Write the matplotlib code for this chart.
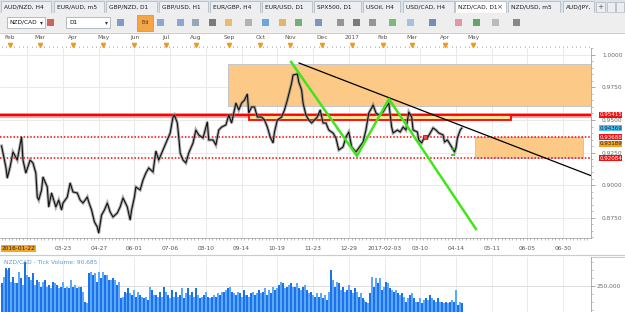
import numpy as np
import matplotlib.pyplot as plt
from matplotlib.patches import Rectangle
from matplotlib.transforms import blended_transform_factory as blend

# ---- data --------------------------------------------------------------
# trading day index (0 = 2016-01-22) and daily close of NZD/CAD
day = [0, 3, 4, 6, 8, 11, 14, 15, 17, 20, 22, 24, 25, 26, 28, 29, 32, 33, 35, 38,
       40, 42, 43, 46, 48, 50, 53, 55, 57, 60, 61, 63, 65, 67, 68, 70, 72, 74, 76, 78,
       81, 83, 85, 88, 90, 91, 93, 94, 97, 99, 101, 103, 106, 108, 110, 113, 116, 118, 120, 121,
       123, 124, 125, 127, 129, 131, 134, 136, 138, 141, 144, 145, 148, 150, 152, 154, 157, 159, 161, 164,
       166, 168, 170, 172, 173, 175, 177, 179, 182, 184, 186, 188, 190, 191, 193, 196, 198, 200, 203, 204,
       207, 208, 210, 211, 213, 215, 217, 219, 221, 223, 225, 227, 229, 232, 234, 236, 239, 241, 243, 245,
       248, 250, 253, 255, 257, 259, 260, 262, 264, 267, 269, 271, 273, 274, 277, 279, 281, 283, 285, 287,
       288, 291, 292, 294, 296, 298, 300, 302, 304, 306, 309, 310, 312, 315, 317, 318, 319, 321, 322]
close = [0.9301, 0.9140, 0.9055, 0.9140, 0.9255, 0.9193, 0.9370, 0.9193, 0.9093, 0.9193,
         0.9170, 0.9093, 0.8909, 0.8886, 0.8963, 0.9063, 0.8986, 0.8833, 0.8940, 0.8833,
         0.8886, 0.8810, 0.8863, 0.8909, 0.9017, 0.8948, 0.8940, 0.8886, 0.8863, 0.8909,
         0.8871, 0.8810, 0.8718, 0.8679, 0.8633, 0.8771, 0.8810, 0.8863, 0.8794, 0.8756,
         0.8787, 0.8833, 0.8902, 0.8833, 0.8733, 0.8810, 0.8909, 0.8986, 0.8963, 0.9040,
         0.9093, 0.9132, 0.9101, 0.9262, 0.9193, 0.9270, 0.9347, 0.9400, 0.9523, 0.9538,
         0.9477, 0.9370, 0.9247, 0.9193, 0.9170, 0.9247, 0.9324, 0.9423, 0.9385, 0.9362,
         0.9485, 0.9347, 0.9347, 0.9308, 0.9423, 0.9446, 0.9462, 0.9538, 0.9477, 0.9630,
         0.9577, 0.9630, 0.9653, 0.9699, 0.9554, 0.9600, 0.9600, 0.9523, 0.9523, 0.9500,
         0.9446, 0.9370, 0.9324, 0.9408, 0.9500, 0.9523, 0.9577, 0.9653, 0.9784, 0.9845,
         0.9853, 0.9791, 0.9730, 0.9630, 0.9538, 0.9500, 0.9477, 0.9500, 0.9523, 0.9577,
         0.9477, 0.9477, 0.9423, 0.9400, 0.9362, 0.9270, 0.9293, 0.9370, 0.9408, 0.9293,
         0.9255, 0.9285, 0.9331, 0.9423, 0.9554, 0.9592, 0.9615, 0.9554, 0.9538, 0.9561,
         0.9600, 0.9630, 0.9446, 0.9400, 0.9423, 0.9408, 0.9446, 0.9423, 0.9561, 0.9523,
         0.9423, 0.9408, 0.9347, 0.9324, 0.9370, 0.9362, 0.9400, 0.9439, 0.9423, 0.9400,
         0.9385, 0.9331, 0.9347, 0.9293, 0.9255, 0.9285, 0.9362, 0.9423, 0.9437]

# tick volume, left to right
volume = [268750, 306250, 362500, 350000, 362500, 275000, 306250, 268750, 268750, 337500,
          300000, 256250, 400000, 318750, 306250, 287500, 331250, 256250, 287500, 275000,
          243750, 275000, 287500, 243750, 256250, 237500, 275000, 268750, 256250, 237500,
          243750, 275000, 237500, 243750, 237500, 287500, 243750, 256250, 237500, 243750,
          243750, 212500, 150000, 143750, 331250, 337500, 318750, 331250, 275000, 337500,
          300000, 337500, 318750, 318750, 287500, 287500, 300000, 287500, 256250, 275000,
          175000, 181250, 212500, 206250, 237500, 206250, 193750, 225000, 181250, 212500,
          193750, 181250, 175000, 181250, 162500, 243750, 225000, 193750, 193750, 181250,
          212500, 181250, 243750, 212500, 193750, 175000, 225000, 181250, 212500, 181250,
          193750, 237500, 175000, 206250, 237500, 193750, 212500, 181250, 237500, 193750,
          175000, 181250, 193750, 212500, 181250, 175000, 181250, 193750, 181250, 206250,
          193750, 212500, 212500, 225000, 237500, 243750, 212500, 206250, 193750, 212500,
          206250, 181250, 225000, 193750, 193750, 181250, 206250, 212500, 193750, 206250,
          225000, 206250, 212500, 237500, 193750, 225000, 206250, 243750, 225000, 237500,
          256250, 275000, 268750, 237500, 243750, 256250, 268750, 243750, 243750, 268750,
          237500, 225000, 243750, 256250, 225000, 206250, 212500, 193750, 181250, 206250,
          181250, 206250, 175000, 193750, 162500, 212500, 350000, 287500, 243750, 275000,
          268750, 225000, 243750, 212500, 225000, 256250, 225000, 206250, 237500, 212500,
          181250, 206250, 175000, 162500, 150000, 143750, 206250, 306250, 243750, 300000,
          268750, 300000, 225000, 243750, 275000, 268750, 237500, 225000, 212500, 225000,
          206250, 193750, 206250, 181250, 150000, 175000, 193750, 206250, 175000, 150000,
          150000, 175000, 143750, 162500, 175000, 162500, 193750, 175000, 162500, 150000,
          175000, 150000, 150000, 143750, 150000, 143750, 150000, 162500, 150000, 225000,
          131250, 150000, 143750]
last_day = 322

# drawn objects (trading-day index, price)
resistance = 0.95415
dotted_levels = [0.93688, 0.92084]
last_price = 0.94369
bid_price = 0.93189
zones = [(158.5, 413.2, 0.9929, 0.9607), (331.3, 406.9, 0.93688, 0.92084)]
small_zone = (173.2, 356.5, 0.95415, 0.9502)
black_x, black_y = [208.2, 413.2], [0.9937, 0.9070]
green_x, green_y = [202.6, 248.7, 271.1, 332.0], [0.9945, 0.9224, 0.9661, 0.8664]
marker_day, marker_price = 296, 0.9370
green_tick_day, green_tick_prices = 316, [0.9277, 0.9231]

# axis labels
price_ticks = [0.8750, 0.9000, 0.9250, 0.9500, 0.9750, 1.0000]
grid_days = [18, 43, 68, 93, 118, 143, 168, 193, 218, 243, 268, 293, 318, 343, 368, 393]
date_days = [43, 68, 93, 118, 143, 168, 193, 218, 243, 268, 293, 318, 343, 368, 393]
date_labels = ['03-23', '04-27', '06-01', '07-06', '08-10', '09-14', '10-19', '11-23',
               '12-29', '2017-02-03', '03-10', '04-14', '05-11', '06-05', '06-30']
month_days = [6, 27, 50, 71, 93, 115, 136, 159, 181, 202, 224, 245, 267, 287, 310, 330]
month_labels = ['Feb', 'Mar', 'Apr', 'May', 'Jun', 'Jul', 'Aug', 'Sep', 'Oct', 'Nov',
                'Dec', '2017', 'Feb', 'Mar', 'Apr', 'May']
tabs = ['AUD/NZD, H4', 'EUR/AUD, m5', 'GBP/NZD, D1', 'GBP/USD, H1', 'EUR/GBP, H4',
        'EUR/USD, D1', 'SPX500, D1', 'USOil, H4', 'USD/CAD, H4', 'NZD/CAD, D1',
        'NZD/USD, m5', 'AUD/JPY,']
active_tab = 'NZD/CAD, D1'

# ---- figure -----------------------------------------------------------
W, H = 625, 312
FS = 4.2
fig = plt.figure(figsize=(W / 100, H / 100), dpi=100)


def px_axes(x0, y0, x1, y1, **kw):
    return fig.add_axes([x0 / W, 1 - y1 / H, (x1 - x0) / W, (y1 - y0) / H], **kw)


# window chrome (pixel coordinates)
ui = px_axes(0, 0, W, H)
ui.set_xlim(0, W)
ui.set_ylim(H, 0)
ui.axis('off')
ui.add_patch(Rectangle((0, 0), W, H, color='#ffffff'))
ui.add_patch(Rectangle((0, 0), W, 13, color='#dde2e8'))
tab_spans = [(0, 51), (53, 104), (105, 157), (158, 208), (209, 260), (261, 312),
             (313, 361), (362, 400), (402, 454), (454, 506), (507, 560), (562, 594)]
for (x0, x1), name in zip(tab_spans, tabs):
    act = name == active_tab
    ui.add_patch(Rectangle((x0 + 0.5, 1), x1 - x0 - 1, 12, fc='#ffffff' if act else '#eceef1',
                           ec='#aab3bd', lw=0.5))
    ui.text(x0 + 4, 7, name, fontsize=FS, color='#1a1a1a', va='center')
    if act:
        ui.text(x1 - 6, 7, '×', fontsize=FS + 1, color='#555555', va='center', ha='center')
ui.add_patch(Rectangle((596, 2), 9, 10, fc='#eceef1', ec='#aab3bd', lw=0.5))
ui.text(600.5, 7, '+', fontsize=FS + 1, color='#555555', ha='center', va='center')
ui.add_patch(Rectangle((607, 2), 8, 10, fc='#eceef1', ec='#aab3bd', lw=0.5))
ui.add_patch(Rectangle((616, 2), 8, 10, fc='#eceef1', ec='#aab3bd', lw=0.5))

# toolbar
ui.add_patch(Rectangle((0, 13), W, 20, color='#eeeeee'))
ui.plot([0, W], [33, 33], color='#c4c4c4', lw=0.6)
ui.add_patch(Rectangle((7, 17), 38, 11, fc='white', ec='#9aa4ae', lw=0.5))
ui.text(9, 22.5, 'NZD/CAD', fontsize=FS, va='center', color='#111111')
ui.text(41, 22.5, '▾', fontsize=FS, va='center', ha='center', color='#333333')
ui.add_patch(Rectangle((66, 17), 44, 11, fc='white', ec='#9aa4ae', lw=0.5))
ui.text(69, 22.5, 'D1', fontsize=FS, va='center', color='#111111')
ui.text(106, 22.5, '▾', fontsize=FS, va='center', ha='center', color='#333333')
ui.add_patch(Rectangle((137, 15), 16, 16, fc='#f6a545', ec='#d98a2b', lw=0.5))
ui.text(145, 22.5, 'Bid', fontsize=3.3, ha='center', va='center', color='#333333')
icon_x = [50, 120, 160, 180, 195, 212, 228, 248, 265, 282, 298, 318, 340, 356, 372,
          392, 410, 432, 458, 476, 495, 516]
icon_c = ['#c0392b', '#5d7fb5', '#6b8fc7', '#6b8fc7', '#7a8fa8', '#555555', '#e0b040',
          '#9aa0a6', '#3f8fd8', '#d9a441', '#4e9a4e', '#5577aa', '#777777', '#555555',
          '#777777', '#4caf50', '#8fb3e0', '#4a6fa5', '#e07a8a', '#3a8a3a', '#aaaaaa', '#666666']
for x, c in zip(icon_x, icon_c):
    ui.add_patch(Rectangle((x - 3, 19), 7, 7, fc=c, ec='none', alpha=0.75))

# separators around the rulers and panes
ui.add_patch(Rectangle((0, 33), W, 15, color='#ffffff'))
ui.plot([0, 591], [47.5, 47.5], color='#9a9a9a', lw=0.5)
ui.plot([0, 591], [238, 238], color='#9a9a9a', lw=0.5)
ui.plot([0, W], [254.5, 254.5], color='#c8ccd2', lw=0.8)
ui.plot([0, W], [256.5, 256.5], color='#c8ccd2', lw=0.8)

xlim = (-1.08, 412.5)

# ---- price pane -------------------------------------------------------
ax = px_axes(0, 48, 591, 238)
ax.set_zorder(2)
ax.set_xlim(*xlim)
ax.set_ylim(0.85949, 1.00522)
ax.set_facecolor('white')
for g in grid_days:
    ax.axvline(g, color='#e6e6e6', lw=0.6, zorder=0)
for p in price_ticks:
    ax.axhline(p, color='#e6e6e6', lw=0.6, zorder=0)

for d0, d1, top, bot in zones:
    ax.add_patch(Rectangle((d0, bot), d1 - d0, top - bot, fc='#fdc987', ec='#b9c3d1',
                           lw=0.6, zorder=1))
ax.axhline(resistance, color='#ff9a9a', lw=3.5, zorder=2)
ax.axhline(resistance, color='#ff0000', lw=1.6, zorder=3)
sd0, sd1, stop, sbot = small_zone
ax.add_patch(Rectangle((sd0, sbot), sd1 - sd0, stop - sbot, fc='#fde39a', ec='#ff0000',
                       lw=1.3, zorder=3))
for lv in dotted_levels:
    ax.axhline(lv, color='#ff0000', lw=1.1, ls=(0, (1, 1.2)), zorder=3)

ax.plot(day, close, color='#8a8a8a', lw=2.2, alpha=0.7, zorder=4, solid_joinstyle='miter')
ax.plot(day, close, color='#111111', lw=0.8, zorder=5)
ax.plot(black_x, black_y, color='#000000', lw=0.9, zorder=6)
ax.plot(green_x, green_y, color='#3ee61a', lw=1.8, zorder=6)
ax.plot([marker_day], [marker_price], 's', ms=3.5, mfc='#ff4040', mec='#b00000', mew=0.5,
        zorder=7)
ax.plot([green_tick_day] * 2, green_tick_prices, '_', ms=3, mew=1.2, color='#2fbf1a',
        ls='none', zorder=7)

ax.tick_params(axis='x', bottom=False, labelbottom=False)
ax.yaxis.tick_right()
ax.set_yticks(price_ticks)
ax.set_yticklabels([f'{p:.4f}' for p in price_ticks])
ax.set_yticks(np.arange(0.86, 1.006, 0.005), minor=True)
ax.tick_params(axis='y', which='major', direction='out', length=3, width=0.5, pad=5,
               labelsize=FS, colors='#8a8a8a', labelcolor='#6a6a6a')
ax.tick_params(axis='y', which='minor', direction='out', length=1.5, width=0.4, colors='#8a8a8a')
for s in ['top', 'bottom', 'left']:
    ax.spines[s].set_visible(False)
ax.spines['right'].set_color('#a0a0a0')
ax.spines['right'].set_linewidth(0.6)

tr = blend(ax.transAxes, ax.transData)
tags = [(resistance, '#ee1111', 'white'), (last_price, '#52c2f5', '#102040'),
        (dotted_levels[0], '#ee1111', 'white'), (bid_price, '#f7a21c', '#222222'),
        (dotted_levels[1], '#ee1111', 'white')]
for val, bg, fg in tags:
    ax.text(1.014, val, f'{val:.5f}', transform=tr, fontsize=FS - 0.2, color=fg, va='center',
            ha='left', clip_on=False, zorder=10,
            bbox=dict(boxstyle='square,pad=0.08', fc=bg, ec='none'))

# ---- time rulers ------------------------------------------------------
top_r = px_axes(0, 33, 591, 48)
top_r.set_xlim(*xlim)
top_r.set_ylim(15, 0)
top_r.axis('off')
for d, lab in zip(month_days, month_labels):
    top_r.text(d, 4.5, lab, fontsize=FS, color='#555555', ha='center', va='center')
top_r.vlines(np.arange(0, 412, 3), 12.5, 14.5, color='#8a8a8a', lw=0.4)
top_r.plot(month_days, [12] * len(month_days), 'v', ms=3, color='#f39a1c', ls='none')

bot_r = px_axes(0, 238, 591, 254)
bot_r.set_xlim(*xlim)
bot_r.set_ylim(16, 0)
bot_r.axis('off')
bot_r.vlines(np.arange(0, 412, 2.5), 0, 2, color='#8a8a8a', lw=0.4)
for d, lab in zip(date_days, date_labels):
    bot_r.text(d, 10.5, lab, fontsize=FS, color='#555555', ha='center', va='center')
bot_r.text(0, 10.5, '2016-01-22', fontsize=FS, color='#222222', ha='left', va='center',
           bbox=dict(boxstyle='square,pad=0.15', fc='#f5a623', ec='none'))

# ---- volume pane ------------------------------------------------------
axv = px_axes(0, 257, 591, 312)
axv.set_zorder(2)
axv.set_xlim(*xlim)
axv.set_ylim(87500, 431250)
for g in grid_days:
    axv.axvline(g, color='#e6e6e6', lw=0.6, zorder=0)
axv.axhline(250000, color='#dddddd', lw=0.7, zorder=0)
vol_day = np.linspace(0, last_day, len(volume))
step = vol_day[1] - vol_day[0]
cols = ['#5aa8ff' if i % 2 else '#1f72e6' for i in range(len(volume))]
axv.bar(vol_day, volume, width=step, color=cols, lw=0, zorder=2)
axv.text(0.007, 0.9, 'NZD/CAD - Tick Volume: 90,685', transform=axv.transAxes,
         fontsize=FS, color='#5b9bd5', va='center', zorder=5)
axv.tick_params(axis='x', bottom=False, labelbottom=False)
axv.yaxis.tick_right()
axv.set_yticks([250000])
axv.set_yticklabels(['250,000'])
axv.set_yticks(np.arange(100000, 431250, 50000), minor=True)
axv.tick_params(axis='y', which='major', direction='out', length=3, width=0.5, pad=1,
                labelsize=FS, colors='#8a8a8a', labelcolor='#6a6a6a')
axv.tick_params(axis='y', which='minor', direction='out', length=1.5, width=0.4, colors='#8a8a8a')
for s in ['top', 'bottom', 'left']:
    axv.spines[s].set_visible(False)
axv.spines['right'].set_color('#a0a0a0')
axv.spines['right'].set_linewidth(0.6)

fig.savefig('out.png', dpi=100)
